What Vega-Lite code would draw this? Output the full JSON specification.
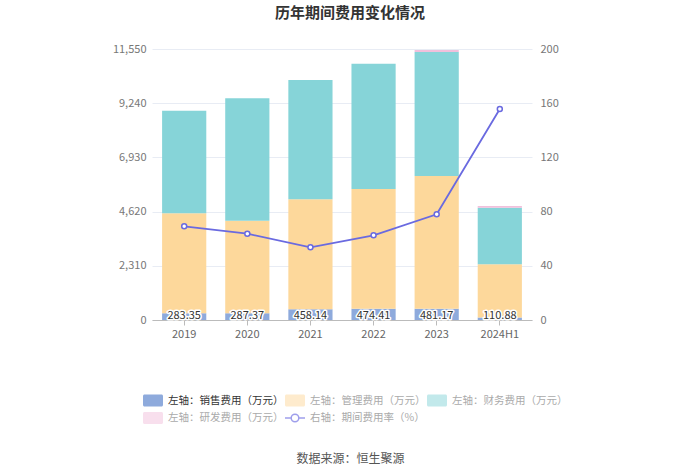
{
  "$schema": "https://vega.github.io/schema/vega-lite/v6.json",
  "width": 380,
  "height": 271,
  "autosize": {"type": "none"},
  "padding": {"left": 152, "top": 49, "right": 168, "bottom": 154},
  "background": "#ffffff",
  "config": {
    "font": "Noto Sans CJK SC",
    "view": {"stroke": null},
    "title": {"font": "Noto Sans CJK SC", "fontSize": 15, "fontWeight": "bold", "color": "#333333", "anchor": "middle", "dx": 8, "offset": 22},
    "axis": {"labelFont": "Noto Sans CJK SC", "titleFont": "Noto Sans CJK SC"},
    "legend": {"labelFont": "Noto Sans CJK SC"}
  },
  "title": {"text": "历年期间费用变化情况"},
  "datasets": {
    "costs": [
      {"year": "2019", "type": "左轴：销售费用（万元）", "value": 283.35, "ord": 1},
      {"year": "2019", "type": "左轴：管理费用（万元）", "value": 4264, "ord": 2},
      {"year": "2019", "type": "左轴：财务费用（万元）", "value": 4373, "ord": 3},
      {"year": "2019", "type": "左轴：研发费用（万元）", "value": 0, "ord": 4},
      {"year": "2020", "type": "左轴：销售费用（万元）", "value": 287.37, "ord": 1},
      {"year": "2020", "type": "左轴：管理费用（万元）", "value": 3946, "ord": 2},
      {"year": "2020", "type": "左轴：财务费用（万元）", "value": 5216, "ord": 3},
      {"year": "2020", "type": "左轴：研发费用（万元）", "value": 0, "ord": 4},
      {"year": "2021", "type": "左轴：销售费用（万元）", "value": 458.14, "ord": 1},
      {"year": "2021", "type": "左轴：管理费用（万元）", "value": 4685, "ord": 2},
      {"year": "2021", "type": "左轴：财务费用（万元）", "value": 5086, "ord": 3},
      {"year": "2021", "type": "左轴：研发费用（万元）", "value": 0, "ord": 4},
      {"year": "2022", "type": "左轴：销售费用（万元）", "value": 474.41, "ord": 1},
      {"year": "2022", "type": "左轴：管理费用（万元）", "value": 5109, "ord": 2},
      {"year": "2022", "type": "左轴：财务费用（万元）", "value": 5341, "ord": 3},
      {"year": "2022", "type": "左轴：研发费用（万元）", "value": 0, "ord": 4},
      {"year": "2023", "type": "左轴：销售费用（万元）", "value": 481.17, "ord": 1},
      {"year": "2023", "type": "左轴：管理费用（万元）", "value": 5656, "ord": 2},
      {"year": "2023", "type": "左轴：财务费用（万元）", "value": 5285, "ord": 3},
      {"year": "2023", "type": "左轴：研发费用（万元）", "value": 85, "ord": 4},
      {"year": "2024H1", "type": "左轴：销售费用（万元）", "value": 110.88, "ord": 1},
      {"year": "2024H1", "type": "左轴：管理费用（万元）", "value": 2263, "ord": 2},
      {"year": "2024H1", "type": "左轴：财务费用（万元）", "value": 2412, "ord": 3},
      {"year": "2024H1", "type": "左轴：研发费用（万元）", "value": 70, "ord": 4}
    ],
    "rates": [
      {"year": "2019", "rate": 69.1},
      {"year": "2020", "rate": 63.7},
      {"year": "2021", "rate": 53.6},
      {"year": "2022", "rate": 62.5},
      {"year": "2023", "rate": 78.0},
      {"year": "2024H1", "rate": 155.7}
    ]
  },
  "encoding": {
    "x": {
      "field": "year",
      "type": "nominal",
      "sort": null,
      "scale": {"paddingInner": 0.3, "paddingOuter": 0.16},
      "axis": {
        "title": "数据来源：恒生聚源",
        "titleFontSize": 12,
        "titleFontWeight": "normal",
        "titleColor": "#555555",
        "titleX": 198,
        "titleY": 138,
        "titleBaseline": "middle",
        "titleAnchor": "middle",
        "labelAngle": 0,
        "labelColor": "#666666",
        "labelFontSize": 11,
        "labelPadding": 3,
        "domainColor": "#bbbbbb",
        "tickColor": "#bbbbbb",
        "tickSize": 5
      }
    }
  },
  "layer": [
    {
      "data": {"name": "costs"},
      "encoding": {
        "y": {
          "field": "value",
          "type": "quantitative",
          "stack": "zero",
          "scale": {"domain": [0, 11550], "nice": false},
          "axis": {
            "title": null,
            "values": [0, 2310, 4620, 6930, 9240, 11550],
            "labelExpr": "format(datum.value, ',')",
            "labelColor": "#777777",
            "labelFontSize": 11,
            "labelPadding": 6,
            "domain": false,
            "ticks": false,
            "gridColor": "#e8ecf4",
            "gridWidth": 1
          }
        }
      },
      "layer": [
        {
          "mark": {"type": "bar"},
          "encoding": {
            "color": {
              "field": "type",
              "type": "nominal",
              "scale": {
                "domain": ["左轴：销售费用（万元）", "左轴：管理费用（万元）", "左轴：财务费用（万元）", "左轴：研发费用（万元）", "右轴：期间费用率（%）"],
                "range": ["#8eaadc", "#fdd89b", "#86d4d8", "#f1c0dc", "#6a6ae0"]
              },
              "legend": {
                "title": null,
                "orient": "none",
                "direction": "horizontal",
                "legendX": -10,
                "legendY": 340,
                "columns": 3,
                "columnPadding": -2,
                "rowPadding": -2,
                "gridAlign": "all",
                "symbolSize": 400,
                "labelFontSize": 10.5,
                "labelOffset": 4,
                "labelLimit": 200,
                "symbolStrokeWidth": 1.5,
                "encode": {
                  "symbols": {
                    "update": {
                      "shape": {"signal": "datum.index == 4 ? 'M-1,0H-0.38M0.38,0H1M0.38,0A0.38,0.38,0,1,1,-0.38,0A0.38,0.38,0,1,1,0.38,0' : 'M-0.85,-0.6H0.85A0.15,0.15,0,0,1,1,-0.45V0.45A0.15,0.15,0,0,1,0.85,0.6H-0.85A0.15,0.15,0,0,1,-1,0.45V-0.45A0.15,0.15,0,0,1,-0.85,-0.6Z'"},
                      "fillOpacity": {"signal": "datum.index == 4 ? 0 : datum.index == 0 ? 1 : 0.5"},
                      "strokeOpacity": {"signal": "datum.index == 4 ? 0.65 : 0"},
                      "strokeWidth": {"value": 1.5},
                      "opacity": {"value": 1}
                    }
                  },
                  "labels": {
                    "update": {
                      "fill": {"signal": "datum.index == 0 ? '#333333' : '#aaaaaa'"}
                    }
                  }
                }
              }
            },
            "order": {"field": "ord", "type": "quantitative", "sort": "ascending"}
          }
        },
        {
          "transform": [{"filter": "datum.ord == 1"}],
          "mark": {"type": "text", "fontSize": 11, "stroke": "#ffffff", "strokeWidth": 3, "strokeJoin": "round", "fill": "#ffffff", "baseline": "middle", "dy": -4},
          "encoding": {
            "y": {"datum": 0, "type": "quantitative"},
            "text": {"field": "value", "type": "quantitative", "format": ".2f"}
          }
        },
        {
          "transform": [{"filter": "datum.ord == 1"}],
          "mark": {"type": "text", "fontSize": 11, "fill": "#333333", "baseline": "middle", "dy": -4},
          "encoding": {
            "y": {"datum": 0, "type": "quantitative"},
            "text": {"field": "value", "type": "quantitative", "format": ".2f"}
          }
        }
      ]
    },
    {
      "data": {"name": "rates"},
      "mark": {"type": "line", "strokeWidth": 1.8, "point": {"filled": false, "fill": "#ffffff", "size": 25, "strokeWidth": 1.5}},
      "encoding": {
        "y": {
          "field": "rate",
          "type": "quantitative",
          "scale": {"domain": [0, 200], "nice": false},
          "axis": {
            "orient": "right",
            "title": null,
            "values": [0, 40, 80, 120, 160, 200],
            "labelColor": "#777777",
            "labelFontSize": 11,
            "labelPadding": 8,
            "domain": false,
            "ticks": false,
            "grid": false
          }
        },
        "color": {"datum": "右轴：期间费用率（%）"}
      }
    }
  ],
  "resolve": {"scale": {"y": "independent"}}
}
